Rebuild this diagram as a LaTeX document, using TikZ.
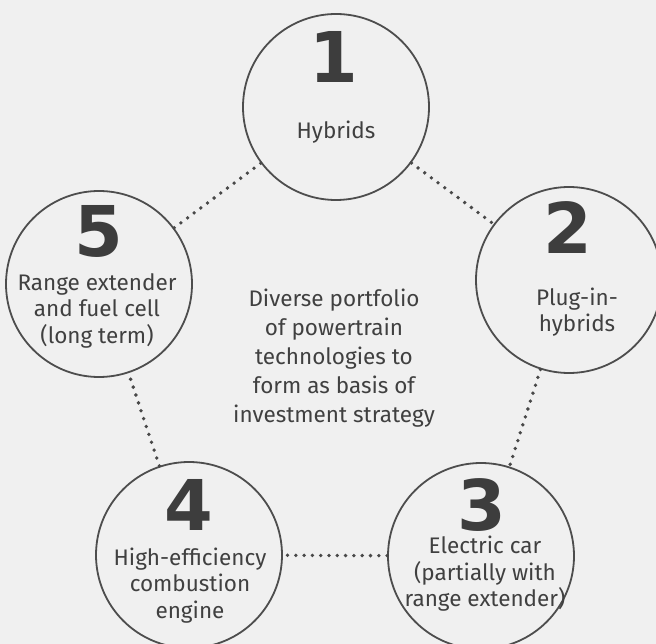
\documentclass[tikz,border=0pt]{standalone}
\usepackage{fontspec}
\setmainfont{Fira Sans}
\newfontfamily\numfont{DejaVu Sans}
\definecolor{bgc}{HTML}{F0F0F0}
\definecolor{ringc}{HTML}{4D4D4D}
\definecolor{numc}{HTML}{3D3D3D}
\definecolor{txtc}{HTML}{404040}
\definecolor{dotc}{HTML}{484848}
\begin{document}
\begin{tikzpicture}[x=1pt,y=-1pt,
  ring/.style={circle, draw=ringc, line width=1.8pt, minimum size=186pt, inner sep=0pt},
  num/.style={font=\numfont\bfseries\fontsize{70}{70}\selectfont, text=numc, inner sep=0pt, anchor=base},
  lbl/.style={font=\fontsize{22.5}{26.5}\selectfont, text=txtc, align=center, inner sep=0pt, anchor=base},
  link/.style={draw=dotc, line width=3.8pt, line cap=round, dash pattern=on 0pt off 8.3pt}]
\fill[bgc] (0,0) rectangle (656,644);
\useasboundingbox (0,0) rectangle (656,644);
\node[ring] (c1) at (336,107) {};
\node[ring] (c2) at (569,280) {};
\node[ring] (c3) at (481,556) {};
\node[ring] (c4) at (189,555) {};
\node[ring] (c5) at (99,284) {};
\draw[link] (c1) -- (c2);
\draw[link] (c2) -- (c3);
\draw[link] (c3) -- (c4);
\draw[link] (c4) -- (c5);
\draw[link] (c5) -- (c1);
\node[num] (n1) at (334,83) {1};
\node[num] (n2) at (567.5,254) {2};
\node[num] (n3) at (482,530.7) {3};
\node[num] (n4) at (189,530.7) {4};
\node[num] (n5) at (99,256.7) {5};
\node[lbl] (t1) at (336,139) {Hybrids};
\node[lbl] (t2) at (577,331.7) {Plug-in-\\hybrids};
\node[lbl] (t3) at (485,606.7) {Electric car\\(partially with\\range extender)};
\node[lbl] (t4) at (190,618) {High-efficiency\\combustion\\engine};
\node[lbl] (t5) at (97,343) {Range extender\\and fuel cell\\(long term)};
\node[lbl, font=\fontsize{22.5}{29}\selectfont] (t0) at (334,422) {Diverse portfolio\\of powertrain\\technologies to\\form as basis of\\investment strategy};
\end{tikzpicture}
\end{document}
